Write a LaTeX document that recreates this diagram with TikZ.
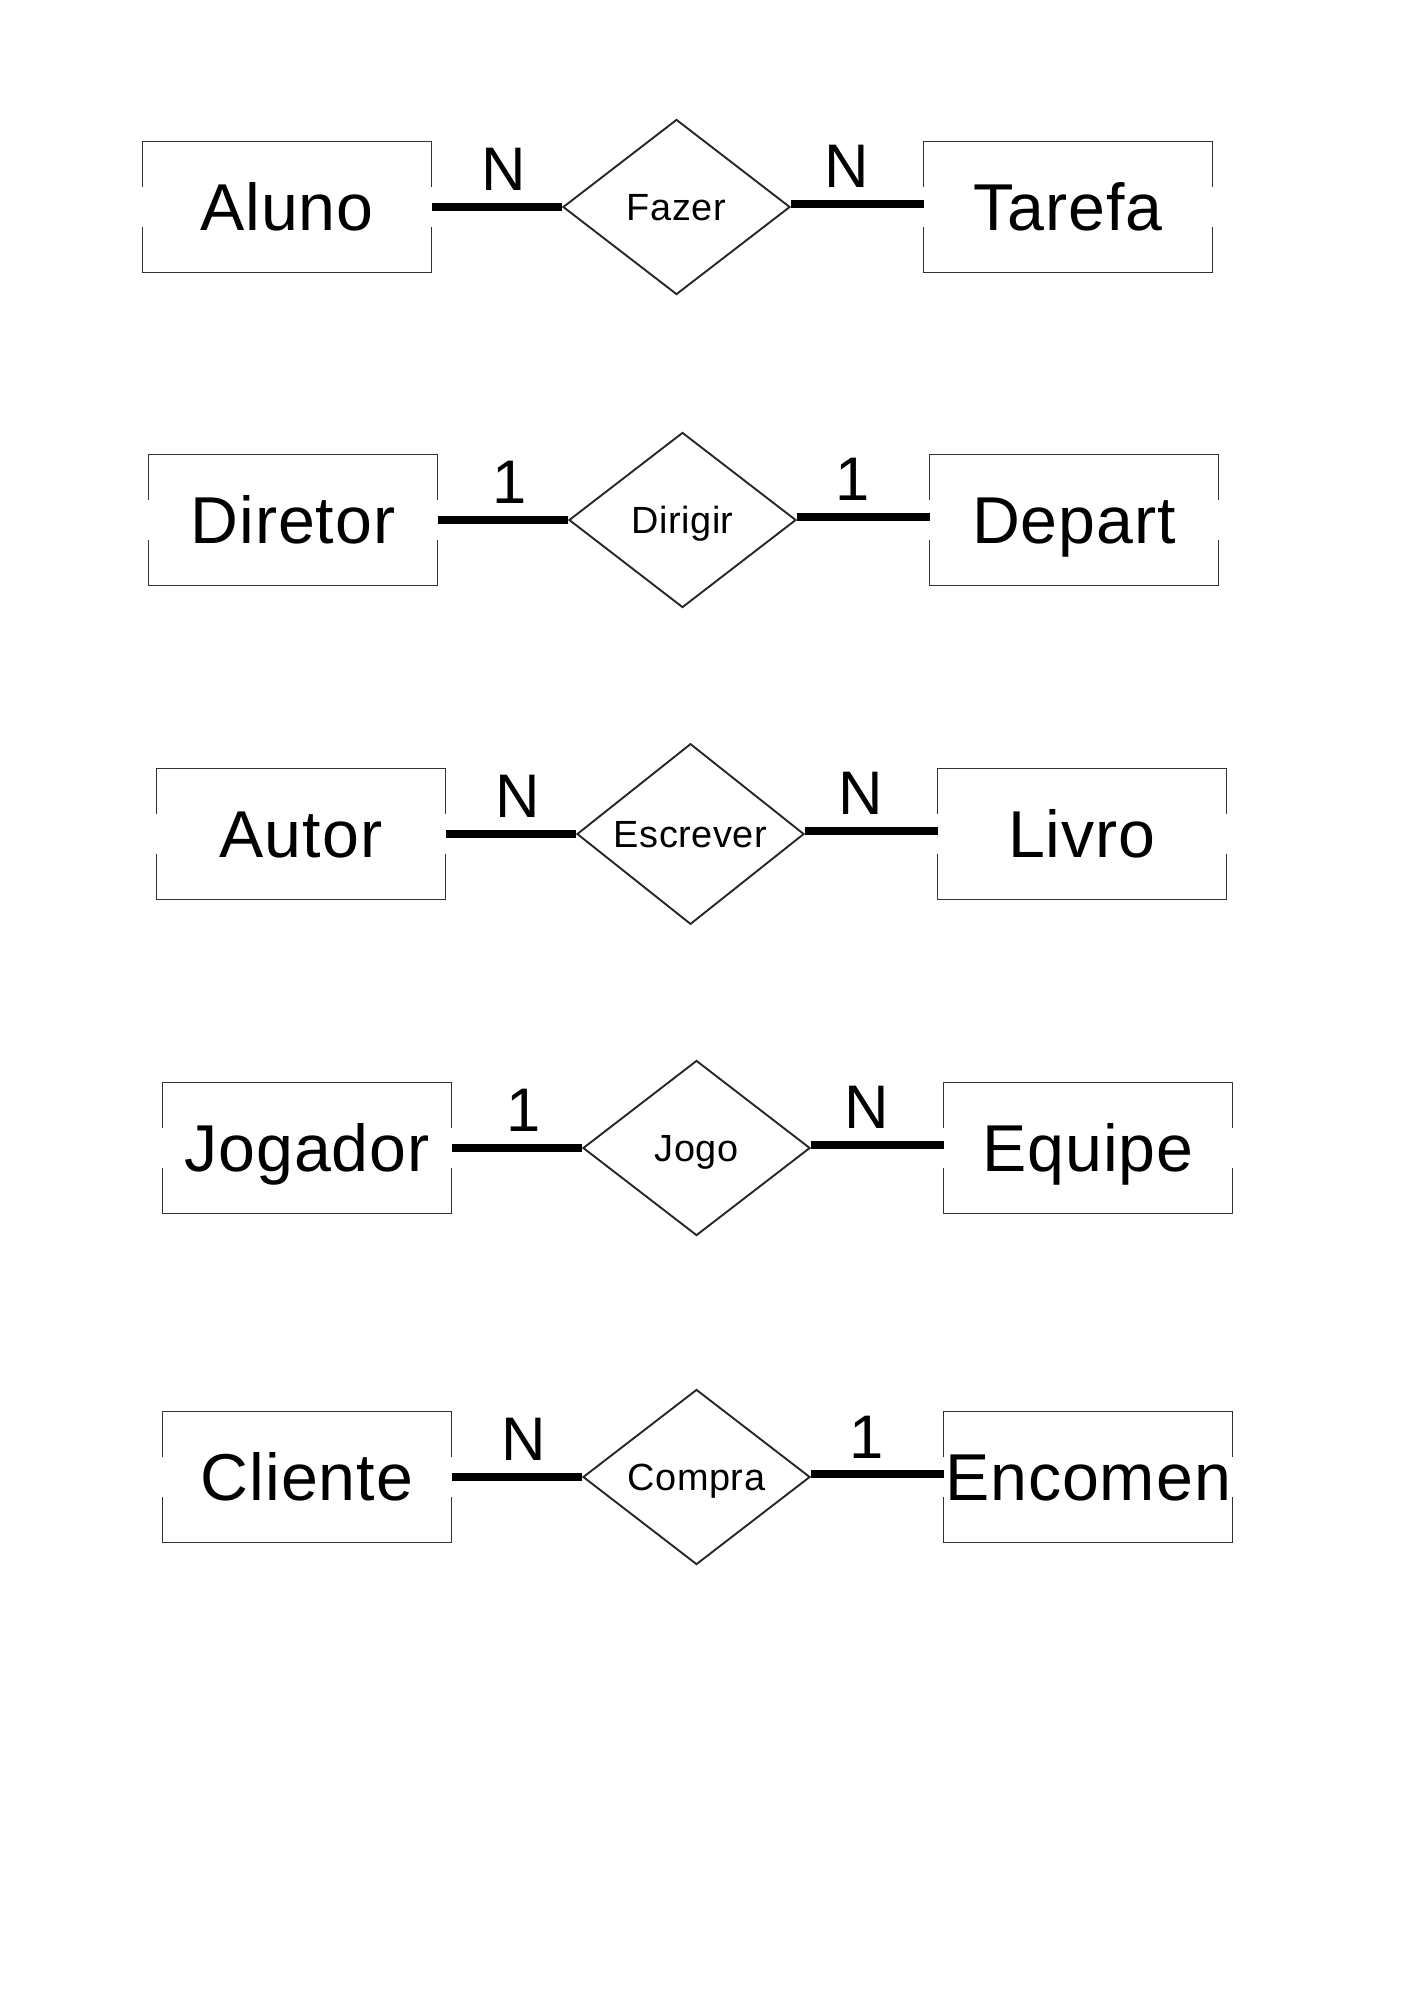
\documentclass[tikz,border=0pt]{standalone}
\usepackage{fontspec}
\setmainfont{Liberation Sans}
\newfontfamily\erfont[LetterSpace=1.5]{Liberation Sans}
\usetikzlibrary{shapes.geometric}
\tikzset{
  entity/.style={minimum width=4.277cm, minimum height=1.931cm, inner sep=0pt,
    font=\erfont\fontsize{28}{30}\selectfont, text height=20pt, text depth=0pt},
  relation/.style={diamond, draw=black!85, line width=0.8pt, inner sep=0pt,
    minimum width=3.371cm, minimum height=2.599cm,
    font=\erfont\fontsize{16}{18}\selectfont, text height=11.5pt, text depth=0pt},
  frame/.style={draw=black!80, line width=0.8pt},
  link/.style={line width=3pt},
  card/.style={font=\fontsize{26}{28}\selectfont, anchor=base, yshift=0.238cm, inner sep=0pt}
}
\newcommand{\entframe}[1]{%
  \draw[frame] ([yshift=0.297cm]#1.west) -- (#1.north west) -- (#1.north east) -- ([yshift=0.297cm]#1.east);
  \draw[frame] ([yshift=-0.297cm]#1.west) -- (#1.south west) -- (#1.south east) -- ([yshift=-0.297cm]#1.east);}
\newcommand{\erow}[8]{%
  \node[entity] (#1a) at (#7+144,#8) {#1};
  \node[relation] (#2r) at (#7+533.5,#8) {#2};
  \node[entity] (#3b) at (#7+925,#8) {#3};
  \entframe{#1a}
  \entframe{#3b}
  \draw[link] (#1a) -- node[card, pos=.55] {#4} (#2r);
  \draw[link] ([yshift=1.26pt]#2r.east) -- node[card, pos=.42] {#5} ([yshift=1.26pt]#3b.west);}
\begin{document}
\begin{tikzpicture}[x=0.014851cm, y=-0.014851cm]
  \useasboundingbox (0,0) rectangle (1414,2000);
  \erow{Aluno}{Fazer}{Tarefa}{N}{N}{}{143}{207}
  \erow{Diretor}{Dirigir}{Depart}{1}{1}{}{149}{520}
  \erow{Autor}{Escrever}{Livro}{N}{N}{}{157}{834}
  \erow{Jogador}{Jogo}{Equipe}{1}{N}{}{163}{1148}
  \erow{Cliente}{Compra}{Encomen}{N}{1}{}{163}{1477}
\end{tikzpicture}
\end{document}
